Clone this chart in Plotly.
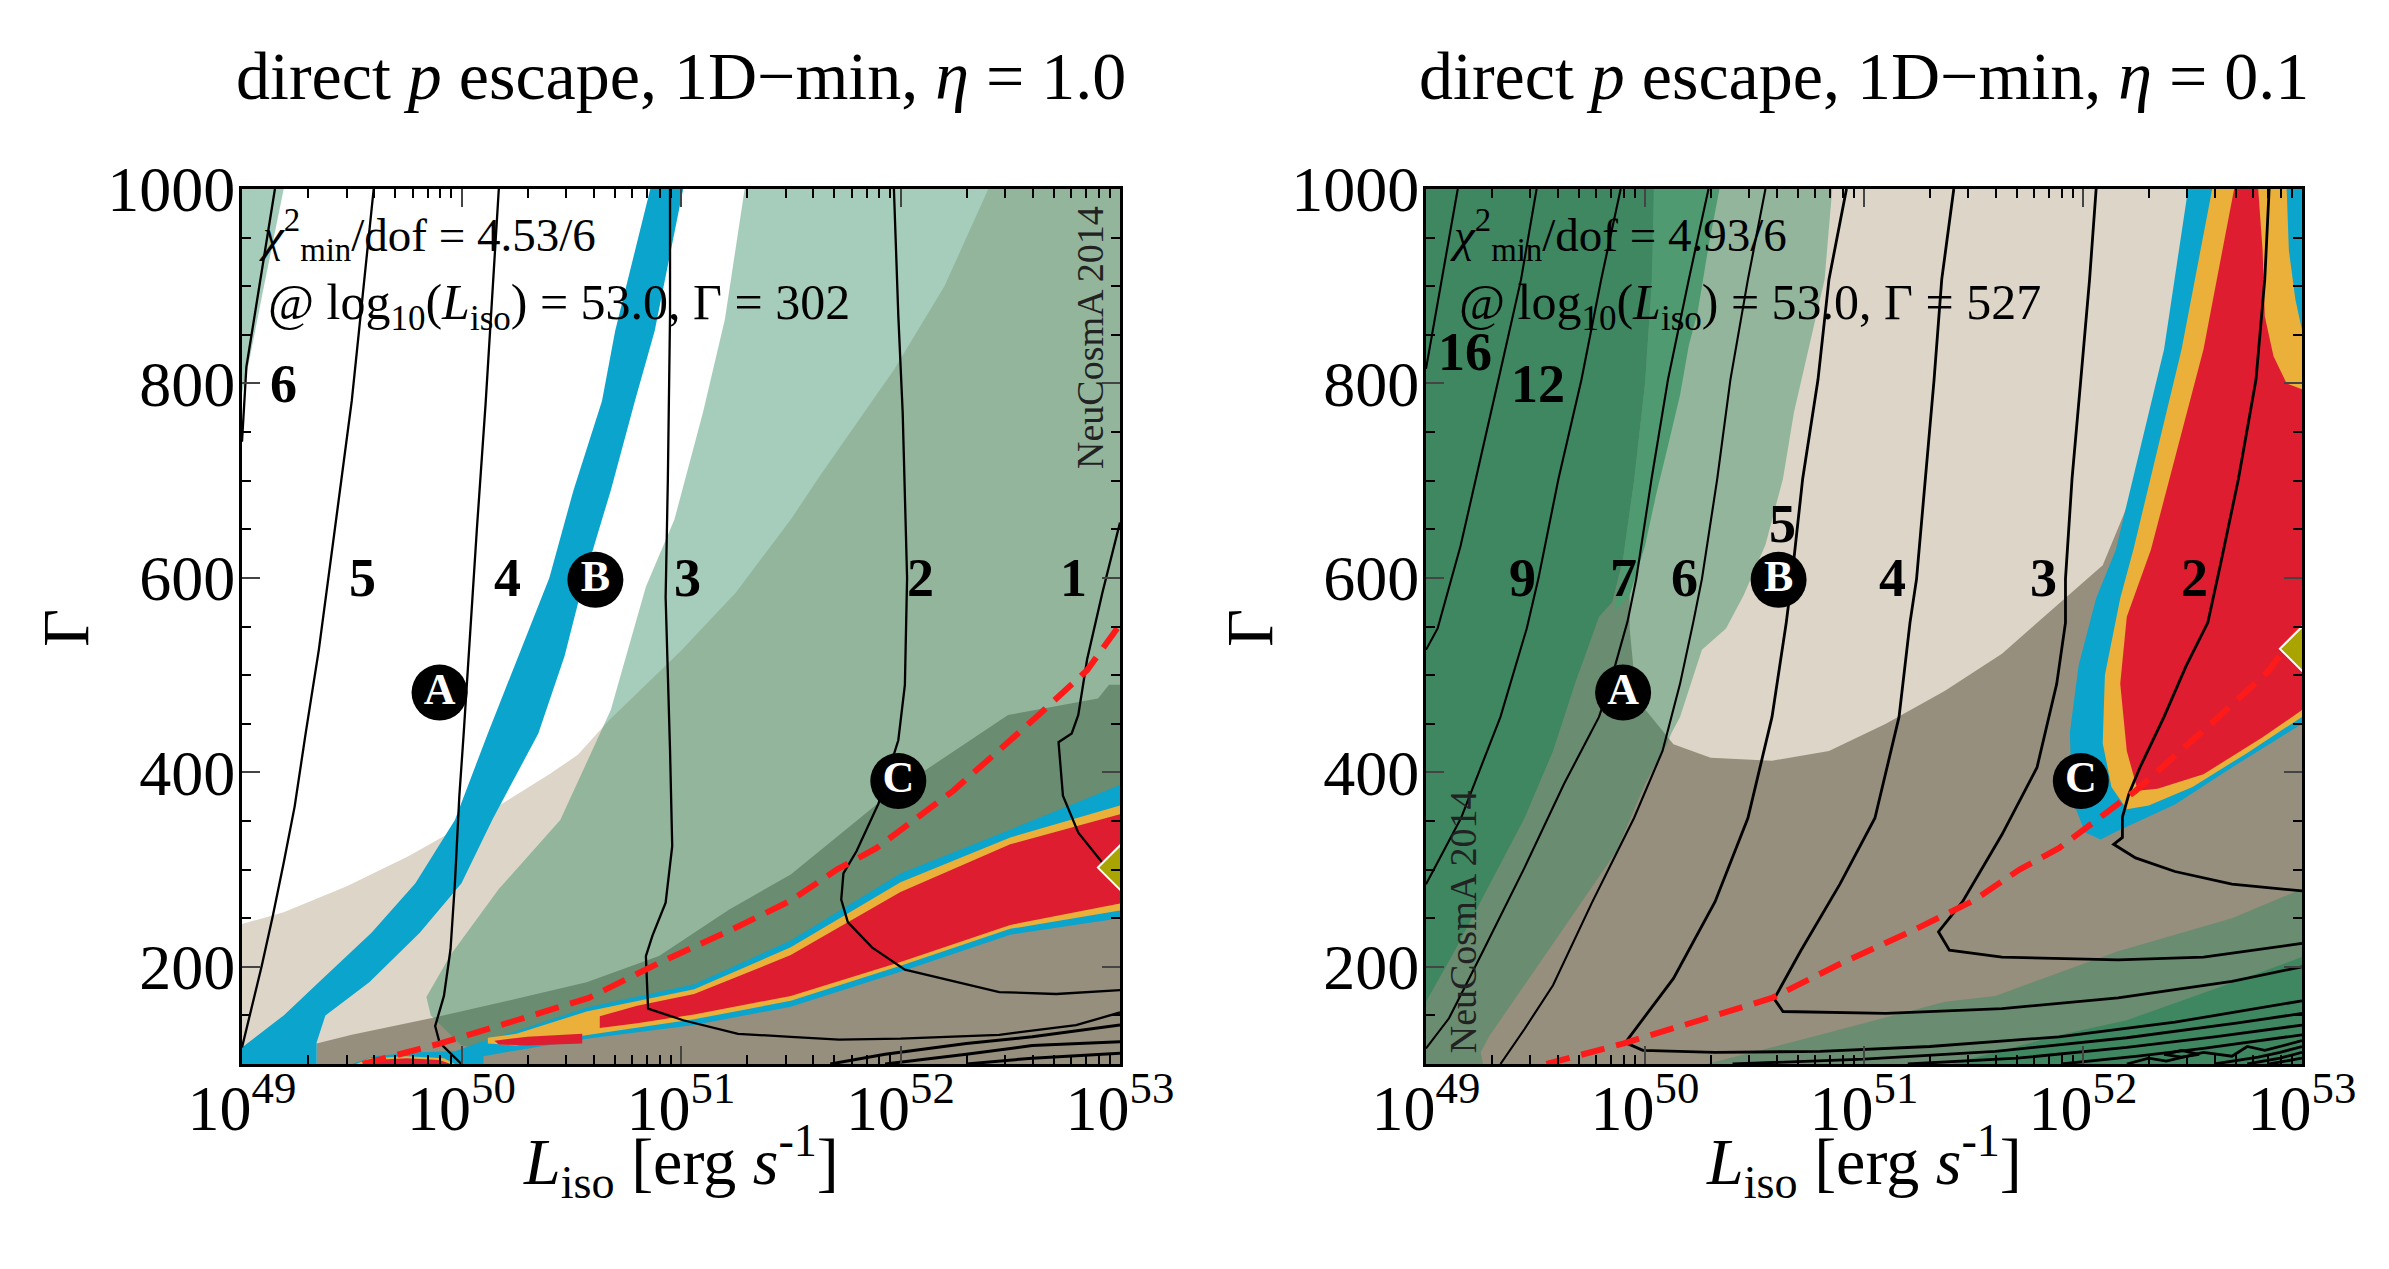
import numpy as np
import plotly.graph_objects as go

# ---- colours of the shaded regions
BEIGE = "#ddd6c8"
TAUPE = "#978f7d"
GREEN_A = "rgba(46,137,95,0.425)"
DARK = "#3e8760"
MEDIUM = "#4f9a70"
BLUE = "#0aa4cc"
ORANGE = "#ebb03a"
RED = "#de1e30"

# ================= left panel, eta = 1.0  (log10 L_iso, Gamma) =================
L_beige_x = [49.0, 49.19, 49.48, 49.76, 49.95, 50.18, 50.40, 50.53, 50.67, 51.0, 51.25, 51.5, 51.63, 51.97, 52.2, 52.4, 53.0, 53.0, 49.0]
L_beige_y = [244, 256, 283, 314, 338, 367, 398, 418, 453, 525, 585, 660, 704, 814, 900, 1000, 1000, 100, 100]
L_taupe_x = [49.34, 49.34, 49.5, 49.86, 50.25, 50.57, 50.9, 51.22, 51.5, 51.94, 52.49, 52.9, 52.95, 53.0, 53.0]
L_taupe_y = [100, 121, 130, 147, 167, 184, 211, 259, 295, 376, 459, 476, 490, 490, 100]
L_green_x = [51.29, 51.2, 51.1, 50.97, 50.84, 50.68, 50.45, 50.17, 49.95, 49.84, 49.86, 50.0, 50.08, 50.57, 51.06, 51.5, 52.0, 52.5, 53.0, 53.0]
L_green_y = [1000, 866, 770, 660, 591, 464, 351, 280, 212, 169, 150, 119, 116, 150, 165, 195, 250, 290, 320, 1000]
L_wedge_x = [49.0, 49.19, 49.1, 49.03, 49.0]
L_wedge_y = [1000, 1000, 900, 820, 790]
L_bband_x = [49.0, 49.19, 49.35, 49.59, 49.79, 49.97, 50.12, 50.26, 50.40, 50.51, 50.64, 50.70, 50.86,
             51.01, 50.88, 50.79, 50.68, 50.56, 50.47, 50.35, 50.14, 50.0, 49.81, 49.58, 49.38, 49.34, 49.34, 49.0]
L_bband_y = [117, 150, 184, 235, 286, 351, 440, 520, 600, 690, 782, 854, 1000,
             1000, 854, 782, 690, 600, 520, 440, 351, 286, 235, 184, 150, 122, 100, 100]
L_blue_x = [49.5, 49.6, 49.8, 49.97, 50.08, 50.25, 50.57, 51.06, 51.5, 52.0, 52.5, 53.0,
            53.0, 52.5, 52.0, 51.5, 51.06, 50.57, 50.25, 50.1, 50.1]
L_blue_y = [100, 108, 112, 113, 122, 134, 158, 182, 227, 296, 341, 387,
            250, 233, 195, 159, 140, 126, 114, 108, 100]
L_orange_x = [50.12, 50.25, 50.57, 51.06, 51.5, 52.0, 52.5, 53.0, 53.0, 52.5, 52.0, 51.5, 51.06, 50.57, 50.25, 50.12]
L_orange_y = [127, 131, 154, 177, 220, 287, 333, 366, 258, 239, 201, 165, 146, 130, 119, 121]
L_red_x = [50.63, 50.8, 51.06, 51.5, 52.0, 52.5, 53.0, 53.0, 52.5, 52.0, 51.5, 51.06, 50.8, 50.63]
L_red_y = [149, 160, 172, 212, 277, 326, 357, 265, 243, 205, 170, 151, 142, 137]
L_red2_x = [50.15, 50.3, 50.55, 50.55, 50.3, 50.17]
L_red2_y = [124, 128, 131, 121, 119, 120]
L_orange3_x = [49.52, 49.58, 49.75, 49.92, 49.97]
L_orange3_y = [100, 106, 108, 106, 100]
L_red3_x = [49.55, 49.6, 49.75, 49.9, 49.95]
L_red3_y = [100, 104, 106, 104, 100]

L_lines = [
    ([49.15, 49.08, 49.02, 49.0], [1000, 900, 817, 740]),
    ([49.60, 49.50, 49.42, 49.35, 49.29, 49.24, 49.19, 49.14, 49.09, 49.04, 49.0],
     [1000, 782, 645, 526, 440, 365, 307, 252, 201, 156, 117]),
    ([50.17, 50.11, 50.07, 50.04, 50.01, 49.99, 49.97, 49.95, 49.92, 49.88, 49.90, 50.0],
     [1000, 780, 650, 540, 440, 375, 286, 218, 170, 139, 122, 100]),
    ([50.95, 50.95, 50.94, 50.93, 50.95, 50.96, 50.93, 50.87, 50.84, 50.85, 51.01, 51.26, 51.5, 51.72, 52.0, 52.45, 52.8, 53.0],
     [1000, 870, 700, 580, 423, 324, 266, 232, 211, 157, 145, 131, 128, 125, 126, 130, 140, 153]),
    ([51.97, 51.99, 52.01, 52.02, 52.03, 52.02, 51.99, 51.9, 51.8, 51.74, 51.73, 51.76, 51.87, 52.02, 52.22, 52.45, 52.71, 53.0],
     [1000, 870, 770, 680, 600, 490, 433, 368, 319, 296, 269, 246, 220, 197, 186, 174, 172, 176]),
    ([53.0, 52.92, 52.85, 52.81, 52.78, 52.72, 52.74, 52.81, 52.92, 53.0],
     [657, 585, 516, 459, 440, 431, 376, 338, 307, 284]),
    ([51.68, 51.93, 52.3, 52.6, 53.0], [100, 110, 121, 128, 140]),
    ([51.93, 52.3, 52.6, 53.0], [100, 110, 119, 123]),
    ([52.3, 52.6, 53.0], [100, 106, 111]),
]
L_labels = ["6", "5", "4", "3", "2", "1"]
L_label_x = [49.19, 49.55, 50.21, 51.03, 52.09, 52.79]
L_label_y = [799, 600, 600, 600, 600, 600]

# ================= right panel, eta = 0.1 =================
R_taupe_x = [49.0, 53.0, 53.0, 49.0]
R_taupe_y = [100, 100, 1000, 1000]
R_beige_x = [50.2, 50.05, 49.93, 49.93, 49.95, 50.0, 50.13, 50.3, 50.58, 50.84, 51.1, 51.37, 51.63, 51.82, 52.09, 52.25, 52.4, 52.52]
R_beige_y = [1000, 800, 620, 548, 500, 465, 429, 415, 412, 422, 450, 484, 522, 560, 613, 700, 850, 1000]
R_green_x = [49.0, 50.855, 50.82, 50.75, 50.68, 50.63, 50.55, 50.45, 50.37, 50.26, 50.21, 50.16, 50.12, 50.1, 50.0, 49.87, 49.66, 49.45, 49.29, 49.25, 49.26, 49.0]
R_green_y = [1000, 1000, 907, 839, 770, 702, 634, 582, 548, 526, 491, 457, 440, 429, 388, 319, 250, 181, 129, 112, 100, 100]
R_green2_x = [50.28, 50.8, 51.37, 51.6, 52.16, 52.43, 52.68, 53.0, 53.0]
R_green2_y = [100, 130, 164, 170, 216, 234, 250, 280, 100]
R_dark_x = [49.0, 50.06, 50.03, 50.0, 49.95, 49.9, 49.85, 49.79, 49.68, 49.58, 49.45, 49.29, 49.13, 49.0]
R_dark_y = [1000, 1000, 900, 800, 700, 620, 575, 560, 491, 422, 353, 285, 216, 164]
R_medium_x = [50.04, 50.34, 50.29, 50.24, 50.20, 50.16, 50.105, 50.05, 50.0, 49.93, 49.86, 49.9, 49.95, 50.0, 50.03]
R_medium_y = [1000, 1000, 941, 873, 839, 788, 736, 685, 633, 582, 565, 620, 700, 800, 900]
R_dark2_x = [51.4, 51.9, 52.2, 52.45, 52.7, 53.0, 53.0]
R_dark2_y = [100, 130, 145, 165, 185, 210, 100]
R_blue_x = [52.48, 52.37, 52.26, 52.15, 52.06, 51.98, 51.94, 51.95, 52.01, 52.08, 52.16, 52.42, 52.68, 53.0, 53.0]
R_blue_y = [1000, 835, 732, 629, 579, 510, 441, 372, 338, 331, 340, 367, 405, 450, 1000]
R_orange_x = [52.59, 52.45, 52.34, 52.23, 52.17, 52.1, 52.09, 52.13, 52.2, 52.3, 52.5, 52.75, 53.0, 53.0]
R_orange_y = [1000, 835, 732, 629, 579, 500, 430, 385, 362, 366, 385, 420, 457, 1000]
R_red_x = [52.69, 52.55, 52.43, 52.31, 52.2, 52.17, 52.2, 52.25, 52.34, 52.55, 52.82, 53.0, 53.0]
R_red_y = [1000, 835, 732, 629, 560, 491, 422, 381, 383, 398, 436, 464, 1000]
R_opocket_x = [52.80, 52.82, 52.83, 52.87, 52.93, 53.0, 53.0]
R_opocket_y = [1000, 937, 869, 828, 800, 794, 1000]
R_bpocket_x = [52.93, 52.94, 52.97, 53.0, 53.0]
R_bpocket_y = [1000, 937, 886, 855, 1000]

R_lines = [
    ([49.145, 49.09, 49.05, 49.02, 49.0], [1000, 930, 880, 840, 815]),
    ([49.505, 49.434, 49.355, 49.263, 49.158, 49.053, 49.0], [1000, 907, 828, 736, 633, 548, 526]),
    ([49.889, 49.80, 49.71, 49.605, 49.513, 49.46, 49.34, 49.16, 49.0], [1000, 907, 804, 702, 599, 548, 457, 353, 285]),
    ([50.29, 50.20, 50.105, 50.03, 49.96, 49.92, 49.84, 49.79, 49.63, 49.45, 49.26, 49.105, 49.0],
     [1000, 907, 804, 702, 599, 555, 491, 457, 388, 302, 216, 147, 116]),
    ([50.55, 50.47, 50.39, 50.33, 50.26, 50.22, 50.16, 50.08, 49.95, 49.76, 49.58, 49.45, 49.34],
     [1000, 907, 804, 702, 599, 554, 491, 422, 353, 267, 181, 136, 100]),
    ([50.92, 50.84, 50.79, 50.72, 50.67, 50.645, 50.58, 50.47, 50.32, 50.13, 49.97, 49.91, 49.99, 50.32, 50.8, 51.3, 51.89, 52.42, 53.0],
     [1000, 907, 804, 702, 599, 554, 457, 353, 267, 188, 140, 122, 114, 112, 113, 118, 128, 143, 165]),
    ([51.41, 51.355, 51.32, 51.28, 51.24, 51.21, 51.16, 51.05, 50.89, 50.71, 50.59, 50.63, 51.1, 51.63, 52.16, 52.68, 53.0],
     [1000, 907, 804, 702, 599, 554, 457, 353, 285, 216, 167, 154, 152, 157, 168, 185, 200]),
    ([52.06, 52.03, 51.99, 51.95, 51.92, 51.92, 51.88, 51.79, 51.63, 51.45, 51.34, 51.39, 51.63, 52.16, 52.55, 53.0],
     [1000, 907, 804, 702, 599, 554, 491, 405, 336, 267, 236, 217, 210, 207, 210, 224]),
    ([52.85, 52.83, 52.79, 52.71, 52.63, 52.57, 52.47, 52.37, 52.26, 52.21, 52.18, 52.18, 52.14, 52.24, 52.42, 52.68, 53.0],
     [1000, 907, 804, 702, 616, 554, 509, 457, 405, 378, 354, 333, 326, 312, 298, 285, 278]),
    ([50.4, 51.0, 51.6, 52.2, 52.7, 53.0], [100, 105, 113, 127, 142, 152]),
    ([51.2, 51.7, 52.2, 52.6, 53.0], [100, 106, 117, 128, 140]),
    ([51.9, 52.25, 52.55, 52.8, 53.0], [100, 108, 116, 124, 130]),
    ([52.2, 52.3, 52.38, 52.55, 52.68, 52.75, 52.83, 53.0], [100, 106, 103, 112, 108, 118, 114, 124]),
    ([52.6, 52.8, 52.9, 53.0], [100, 107, 112, 118]),
    ([52.75, 52.9, 53.0], [100, 106, 112]),
    ([52.85, 53.0], [100, 106]),
    ([52.37, 52.45, 52.53, 52.45, 52.37], [110, 114, 110, 107, 110]),
]
R_labels = ["16", "12", "9", "7", "6", "5", "4", "3", "2"]
R_label_x = [49.18, 49.51, 49.44, 49.90, 50.18, 50.63, 51.13, 51.82, 52.51]
R_label_y = [832, 799, 600, 600, 600, 655, 600, 600, 600]

# shared: red dashed curve, benchmark points A, B, C and best fits
dash_x = [49.55, 49.9, 50.25, 50.58, 50.9, 51.22, 51.5, 51.71, 51.89, 52.24, 52.61, 52.85, 53.0]
dash_y = [100, 121, 145, 168, 204, 237, 268, 300, 322, 381, 455, 505, 552]
pts_name = ["A", "B", "C"]
pts_x = [49.90, 50.61, 51.99]
pts_y = [482, 598, 391]
best_x = [53.0, 53.0]
best_y = [302, 527]
chi_text = ["4.53/6", "4.93/6"]
best_gamma = ["302", "527"]
eta = ["1.0", "0.1"]

FONT = "Liberation Serif"
W, H, PAD = 2389, 1269, 8   # page size and the browser's body margin


def px(x):
    return (x - PAD) / W


def py(y):
    return 1 - (y - PAD) / H


fig = go.Figure()


def ax(col):
    return dict(xaxis="x" if col == 1 else "x2", yaxis="y" if col == 1 else "y2")


def poly(col, lx, gy, color):
    fig.add_trace(go.Scatter(x=10 ** np.array(lx, dtype=float), y=gy, mode="lines", fill="toself",
                             fillcolor=color, line=dict(width=0, color=color), hoverinfo="skip",
                             showlegend=False, **ax(col)))


def line(col, lx, gy, w=2.2):
    fig.add_trace(go.Scatter(x=10 ** np.array(lx, dtype=float), y=gy, mode="lines",
                             line=dict(color="black", width=w), hoverinfo="skip",
                             showlegend=False, **ax(col)))


# left panel shapes
poly(1, L_beige_x, L_beige_y, BEIGE)
poly(1, L_taupe_x, L_taupe_y, TAUPE)
poly(1, L_green_x, L_green_y, GREEN_A)
poly(1, L_wedge_x, L_wedge_y, GREEN_A)
poly(1, L_bband_x, L_bband_y, BLUE)
poly(1, L_blue_x, L_blue_y, BLUE)
poly(1, L_orange_x, L_orange_y, ORANGE)
poly(1, L_red_x, L_red_y, RED)
poly(1, L_red2_x, L_red2_y, RED)
poly(1, L_orange3_x, L_orange3_y, ORANGE)
poly(1, L_red3_x, L_red3_y, RED)
for i, (lx, gy) in enumerate(L_lines):
    line(1, lx, gy, 3 if i >= 6 else 2.3)

# right panel shapes
poly(2, R_taupe_x, R_taupe_y, TAUPE)
poly(2, R_beige_x, R_beige_y, BEIGE)
poly(2, R_green_x, R_green_y, GREEN_A)
poly(2, R_green2_x, R_green2_y, GREEN_A)
poly(2, R_dark_x, R_dark_y, DARK)
poly(2, R_medium_x, R_medium_y, MEDIUM)
poly(2, R_dark2_x, R_dark2_y, DARK)
poly(2, R_blue_x, R_blue_y, BLUE)
poly(2, R_orange_x, R_orange_y, ORANGE)
poly(2, R_red_x, R_red_y, RED)
poly(2, R_opocket_x, R_opocket_y, ORANGE)
poly(2, R_bpocket_x, R_bpocket_y, BLUE)
for i, (lx, gy) in enumerate(R_lines):
    line(2, lx, gy, 2.8 if i >= 5 else 2.1)

for col in (1, 2):
    fig.add_trace(go.Scatter(x=10 ** np.array(dash_x), y=dash_y, mode="lines",
                             line=dict(color="#ff1a1a", width=6, dash="24px,12px"),
                             hoverinfo="skip", showlegend=False, **ax(col)))
    fig.add_trace(go.Scatter(x=10 ** np.array(pts_x), y=pts_y, mode="markers+text", text=pts_name,
                             marker=dict(size=56, color="black"), textposition="middle center",
                             textfont=dict(family=FONT, size=44, color="white", weight="bold"),
                             hoverinfo="skip", showlegend=False, **ax(col)))
    fig.add_trace(go.Scatter(x=[10 ** best_x[col - 1]], y=[best_y[col - 1]], mode="markers",
                             marker=dict(symbol="diamond", size=34, color="#a9a400",
                                         line=dict(color="white", width=2)),
                             hoverinfo="skip", showlegend=False, **ax(col)))

# axes
minor_x = [k * 10.0 ** e for e in range(49, 53) for k in range(2, 10)]
plot_l = [242, 1426]
plot_r = [1120, 2302]
plot_t, plot_b = 189, 1064
for col in (1, 2):
    s = "" if col == 1 else "2"
    fig.update_layout(**{
        "xaxis" + s: dict(type="log", range=[49, 53], domain=[px(plot_l[col - 1]), px(plot_r[col - 1])],
                          anchor="y" + s, automargin=False, ticklabelstandoff=-14,
                          tickvals=[10.0 ** e for e in range(49, 54)],
                          ticktext=["10<sup>%d</sup>" % e for e in range(49, 54)],
                          ticks="inside", ticklen=18, tickwidth=2, mirror="ticks",
                          showline=True, linecolor="black", linewidth=3, showgrid=False,
                          zeroline=False, tickfont=dict(family=FONT, size=64, color="black"),
                          minor=dict(tickvals=minor_x, ticks="inside", ticklen=9, tickwidth=1.5,
                                     tickcolor="black", showgrid=False)),
        "yaxis" + s: dict(range=[100, 1000], domain=[py(plot_b), py(plot_t)], anchor="x" + s,
                          automargin=False, ticklabelstandoff=-9,
                          tickvals=[200, 400, 600, 800, 1000], ticks="inside", ticklen=18,
                          tickwidth=2, mirror="ticks", showline=True, linecolor="black",
                          linewidth=3, showgrid=False, zeroline=False,
                          tickfont=dict(family=FONT, size=64, color="black"),
                          minor=dict(dtick=50, ticks="inside", ticklen=9, tickwidth=1.5,
                                     tickcolor="black", showgrid=False)),
    })

ann = []
for col in (1, 2):
    xr = "x" if col == 1 else "x2"
    yr = "y" if col == 1 else "y2"
    cx = px((plot_l[col - 1] + plot_r[col - 1]) / 2)
    ann.append(dict(xref="paper", yref="paper", x=cx, y=py(76), showarrow=False,
                    xanchor="center", yanchor="middle",
                    text="direct <i>p</i> escape, 1D\u2212min, <i>\u03b7</i> = " + eta[col - 1],
                    font=dict(family=FONT, size=68, color="black")))
    ann.append(dict(xref="paper", yref="paper", x=cx, y=py(1161), showarrow=False,
                    xanchor="center", yanchor="middle",
                    text="<i>L</i><sub>iso</sub> [erg <i>s</i><sup>-1</sup>]",
                    font=dict(family=FONT, size=66, color="black")))
    ann.append(dict(xref="paper", yref="paper", x=px(plot_l[col - 1] - 177), y=py(628),
                    xanchor="center", yanchor="middle",
                    showarrow=False, text="\u0393", textangle=-90,
                    font=dict(family=FONT, size=66, color="black")))
    x0 = 49.07 if col == 1 else 49.10
    ann.append(dict(xref=xr, yref=yr, x=x0, y=953, showarrow=False, xanchor="left",
                    text="<i>\u03c7</i><sup>2</sup><sub>min</sub>/dof = " + chi_text[col - 1],
                    font=dict(family=FONT, size=47, color="black")))
    ann.append(dict(xref=xr, yref=yr, x=x0 + 0.04, y=880, showarrow=False, xanchor="left",
                    text="@ log<sub>10</sub>(<i>L</i><sub>iso</sub>) = 53.0, \u0393 = " + best_gamma[col - 1],
                    font=dict(family=FONT, size=50, color="black")))
    labs = L_labels if col == 1 else R_labels
    lxs = L_label_x if col == 1 else R_label_x
    lys = L_label_y if col == 1 else R_label_y
    for t, lx, ly in zip(labs, lxs, lys):
        ann.append(dict(xref=xr, yref=yr, x=lx, y=ly, showarrow=False, text="<b>%s</b>" % t,
                        font=dict(family=FONT, size=54, color="black")))
ann.append(dict(xref="x", yref="y", x=52.86, y=847, showarrow=False, text="NeuCosmA 2014",
                textangle=-90, font=dict(family=FONT, size=38, color="#222222")))
ann.append(dict(xref="x2", yref="y2", x=49.17, y=246, showarrow=False, text="NeuCosmA 2014",
                textangle=-90, font=dict(family=FONT, size=38, color="#222222")))

fig.update_layout(width=W, height=H, autosize=False, margin=dict(l=0, r=0, t=0, b=0),
                  paper_bgcolor="white", plot_bgcolor="white", annotations=ann,
                  font=dict(family=FONT, color="black"))

fig.write_html("out.html")
